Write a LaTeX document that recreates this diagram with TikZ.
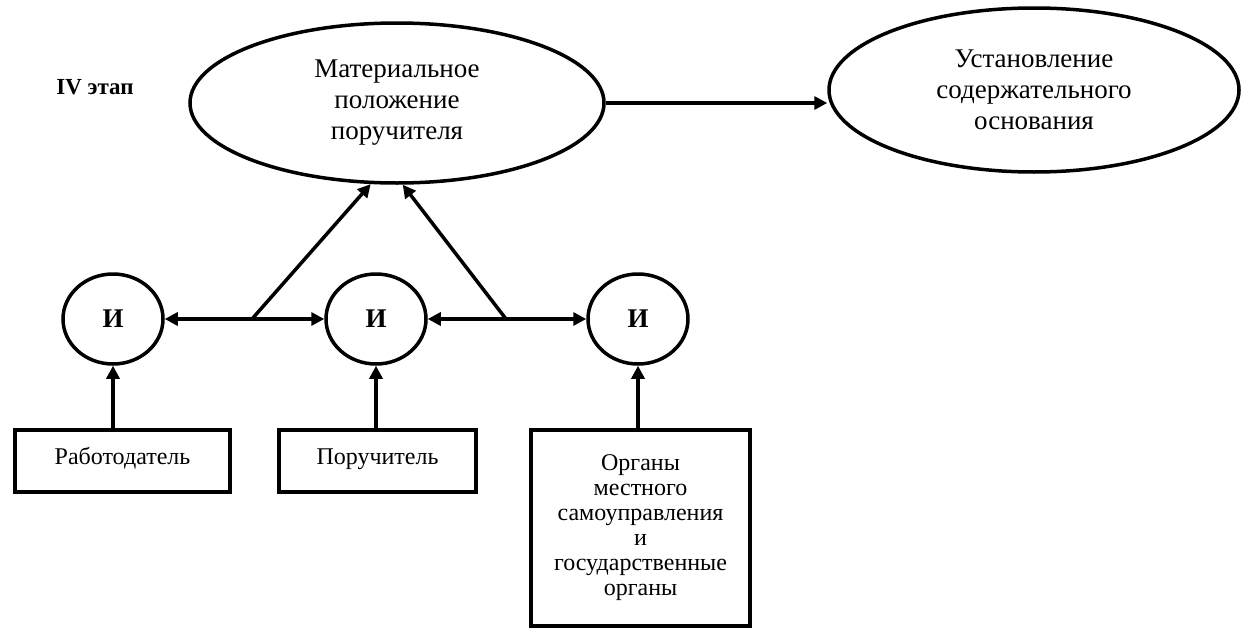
\documentclass[tikz,border=0pt]{standalone}
\usepackage{fontspec}
\setmainfont{Liberation Serif}
\usetikzlibrary{shapes.geometric,arrows.meta}
\begin{document}
\begin{tikzpicture}[x=1pt,y=-1pt, line width=3.5pt,
  bigoval/.style={ellipse, draw, minimum width=414pt, minimum height=160pt, inner sep=0pt, align=center, font=\fontsize{27}{31}\selectfont},
  andnode/.style={ellipse, draw, minimum width=100pt, minimum height=90pt, inner sep=0pt, font=\fontsize{27}{31}\selectfont\bfseries},
  srcbox/.style={rectangle, draw, inner sep=0pt, align=center, font=\fontsize{24}{25}\selectfont},
  onerow/.style={text height=0.85em, text depth=0.1em},
  arr/.style={-{Triangle[length=13pt,width=13pt]}},
  dblarr/.style={{Triangle[length=13pt,width=13pt]}-{Triangle[length=13pt,width=13pt]}},
  lbl/.style={font=\fontsize{23}{26}\selectfont\bfseries}
]
\useasboundingbox (0,0) rectangle (1247,629);

\node[lbl] (stage) at (95,87) {IV этап};
\node[bigoval] (e1) at (397,103) {Материальное\\положение\\поручителя};
\node[bigoval, minimum width=410pt, minimum height=164pt] (e2) at (1034,90) {Установление\\содержательного\\основания};

\node[andnode] (c1) at (113,319) {И};
\node[andnode] (c2) at (376,319) {И};
\node[andnode] (c3) at (638,319) {И};

\node[srcbox, onerow, minimum width=215pt, minimum height=62pt] (b1) at (122.5,461) {Работодатель};
\node[srcbox, onerow, minimum width=197pt, minimum height=62pt] (b2) at (377.5,461) {Поручитель};
\node[srcbox, minimum width=219pt, minimum height=196pt] (b3) at (640.5,528) {Органы\\местного\\самоуправления\\и\\государственные\\органы};

\coordinate (j1) at (252,319);
\coordinate (j2) at (506,319);

\draw[arr] (e1.east) -- (e2.west |- e1.east);
\draw[dblarr] (c1) -- (c2);
\draw[dblarr] (c2) -- (c3);
\draw[arr] (j1) -- (e1.252);
\draw[arr] (j2) -- (e1.274);
\draw[arr] (b1.north -| c1) -- (c1.south);
\draw[arr] (b2.north -| c2) -- (c2.south);
\draw[arr] (b3.north -| c3) -- (c3.south);
\end{tikzpicture}
\end{document}
